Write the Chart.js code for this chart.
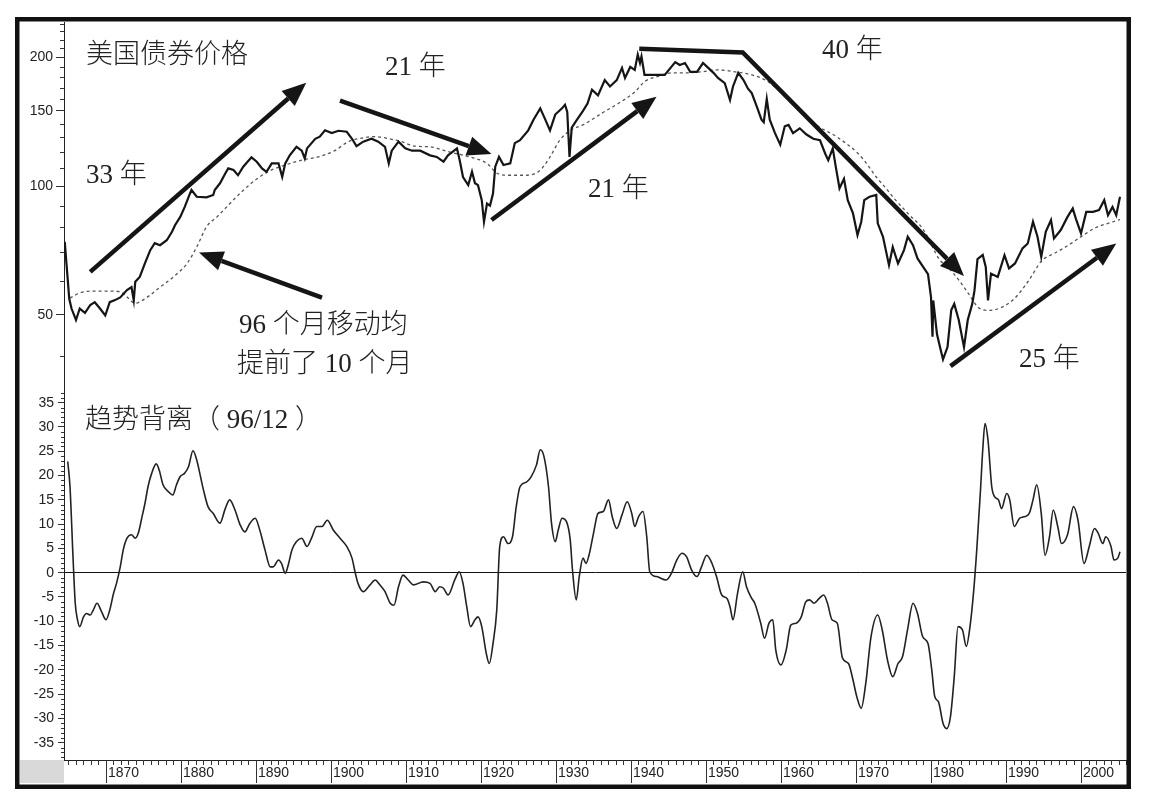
<!DOCTYPE html>
<html>
<head>
<meta charset="utf-8">
<script src="https://cdn.jsdelivr.net/npm/chart.js@4.4.1/dist/chart.umd.min.js"></script>
<style>
  html, body { margin: 0; padding: 0; background: #fff; }
</style>
</head>
<body>
<canvas id="myChart" width="1152" height="804"></canvas>
<script>
const ctx = document.getElementById("myChart").getContext("2d");

// US bond price (monthly readings, log scale)
const priceYears = [
  1864.5,1865.1,1865.4,1866.0,1866.5,1867.2,1867.9,1868.5,1869.2,1869.9,
  1870.5,1871.2,1871.9,1872.8,1873.4,1873.7,1873.9,1874.5,1875.2,1875.9,
  1876.5,1877.2,1878.1,1878.8,1879.2,1879.9,1880.5,1881.2,1881.4,1882.1,
  1883.4,1884.3,1884.5,1885.2,1885.9,1886.3,1887.0,1887.6,1888.3,1889.4,
  1890.1,1890.8,1891.4,1892.1,1893.0,1893.5,1893.9,1894.5,1895.4,1896.1,
  1896.5,1896.8,1897.9,1898.5,1899.2,1900.1,1901.0,1902.1,1902.8,1903.4,
  1904.3,1905.4,1906.3,1907.2,1907.7,1908.1,1909.0,1909.9,1910.8,1911.9,
  1913.2,1914.1,1915.0,1915.6,1916.8,1917.2,1917.6,1918.3,1918.8,1919.2,
  1919.6,1920.1,1920.4,1920.8,1921.2,1921.6,1921.9,1922.4,1923.0,1923.9,
  1924.5,1925.2,1926.3,1927.0,1927.9,1928.5,1929.2,1929.9,1930.8,1931.2,
  1931.5,1931.8,1932.1,1932.8,1933.6,1934.2,1934.8,1935.6,1936.5,1937.2,
  1938.1,1938.8,1939.2,1939.9,1940.5,1940.9,1941.2,1941.4,1941.8,1942.8,
  1944.5,1945.9,1946.5,1947.2,1947.9,1948.8,1949.6,1950.3,1951.0,1951.6,
  1952.5,1953.2,1953.6,1954.3,1955.0,1955.6,1956.1,1956.8,1957.4,1957.7,
  1958.1,1958.5,1959.2,1959.9,1960.5,1961.0,1961.6,1962.5,1963.4,1964.3,
  1965.2,1965.9,1966.3,1966.9,1967.3,1967.8,1968.4,1968.9,1969.6,1970.2,
  1970.7,1971.1,1971.8,1972.7,1972.9,1973.6,1974.4,1974.9,1975.6,1976.4,
  1976.9,1977.6,1978.2,1979.6,1980.0,1980.2,1980.3,1980.8,1981.2,1981.6,
  1982.2,1982.7,1983.1,1983.7,1984.4,1984.9,1985.5,1985.8,1986.2,1986.9,
  1987.3,1987.6,1988.0,1988.9,1989.8,1990.4,1991.2,1992.2,1992.9,1993.6,
  1994.2,1994.7,1995.3,1996.0,1996.4,1997.3,1998.2,1998.9,1999.3,2000.0,
  2000.7,2001.6,2002.4,2003.1,2003.6,2004.2,2004.7,2005.2
];
const priceValues = [
  74,54.5,51.7,48.6,51.7,50.5,52.7,53.5,51.7,49.8,
  53.5,54.1,54.9,57.1,58,54,59.7,61.3,66,70.8,
  73.5,72.7,74.7,78.2,81,84.7,89.4,96.1,97.9,94.4,
  94.1,95.3,97.9,101.5,107,110,109,106,111,116.7,
  114,110,108,113,113,105,113,118,123.5,121,
  116,122.5,129,130.5,135,133,134.7,134,129,124,
  127,129,127,123.5,113,121,127,122.5,121,121,
  118,117,114,118,122.5,114,105,100.5,108,101.5,
  100.5,92.7,82.5,91,90,96,111,117,112,113,
  126,128,135,143,152,144,135,147,152,155,
  149,117,137,143,150,156,168,163,177,171,
  177,189,179,190,187,203,194,201,182,182,
  182,195,192,194,185,185,194,189,184,179,
  174,159,171,184,177,169,165,153,143,141,
  160,143,133,125,138,139,133,136.5,132,129,
  128,119,115,122.5,111,98.8,104,92.7,86.3,76.8,
  82.5,92.7,94.4,95.3,81.8,76.1,65.3,72,65.9,70.8,
  76.1,72.7,67.7,62.2,55,44.4,54,45,42,39.3,
  42,51.3,53,48.6,42,48.6,53,57,67.5,69,
  64.7,54,62.4,61.3,68.9,64.2,65.9,71.5,73.4,82.5,
  76.1,68.3,78.2,83.3,75.4,78.9,84.7,88.7,84,77.5,
  87,87,87.9,92.7,85.5,89.4,85.5,94.4
];

// 96-month moving average (dotted)
const maYears = [
  1865.2,1866.5,1868.3,1870.5,1871.9,1872.8,1873.9,1874.5,1875.9,1877.2,
  1879.0,1880.8,1882.1,1883.4,1884.8,1886.1,1887.4,1889.4,1891.6,1893.9,
  1896.1,1898.3,1900.5,1902.3,1903.6,1905.9,1908.1,1909.4,1911.2,1913.2,
  1915.9,1918.5,1920.8,1922.2,1923.9,1926.1,1927.9,1929.2,1930.5,1931.9,
  1933.6,1934.5,1936.1,1938.3,1940.5,1941.9,1943.6,1945.4,1947.2,1949.4,
  1951.6,1953.9,1956.1,1957.9,1960.5,1963.0,1964.7,1967.4,1970.1,1971.4,
  1972.7,1974.0,1974.9,1977.0,1979.0,1981.2,1981.9,1983.8,1985.0,1986.3,
  1987.6,1989.4,1991.1,1993.0,1994.8,1996.4,1998.2,2000.0,2002.0,2003.8,
  2005.2
];
const maValues = [
  54.7,56.2,56.8,56.8,56.6,55,53.2,53.6,55.6,58,
  61.3,65.9,72,80.3,84.7,89.4,94.4,101.6,108,112,
  115,117,121,127,129,130.5,128.6,127,124,123.5,
  120,117,113,107,106,106,109,117,128,135,
  139,142,148,156,166,176,180.5,184,184,185,
  187,185,182,177,163,148,139,130.5,120,113,
  105,98.8,94.4,86,79,67,65.5,60,56,52,
  51.2,52,54.5,60,67,69.5,72.5,76.1,80,82,
  83.5
];

// trend deviation (96/12)
const oscYears = [
  1864.9,1865.2,1865.6,1865.9,1866.2,1866.5,1867.0,1867.4,1867.9,1868.3,
  1868.8,1869.4,1870.0,1870.5,1871.0,1871.4,1871.9,1872.3,1872.8,1873.4,
  1873.9,1874.3,1874.8,1875.2,1875.6,1876.1,1876.7,1877.1,1877.6,1878.3,
  1878.9,1879.4,1879.9,1880.5,1881.0,1881.6,1882.1,1882.5,1883.0,1883.6,
  1884.3,1885.2,1885.9,1886.5,1887.2,1887.9,1888.5,1889.2,1889.9,1890.5,
  1891.2,1891.9,1892.3,1893.0,1893.4,1893.9,1894.3,1894.8,1895.4,1896.1,
  1896.8,1897.4,1898.1,1898.8,1899.5,1900.3,1901.2,1902.1,1902.8,1903.2,
  1903.6,1904.3,1905.2,1905.9,1906.5,1907.2,1907.9,1908.4,1909.0,1909.6,
  1910.3,1911.0,1912.3,1913.2,1913.9,1914.5,1915.0,1915.6,1916.5,1917.1,
  1917.6,1918.1,1918.6,1919.2,1919.6,1920.1,1920.7,1921.1,1921.6,1922.1,
  1922.5,1923.0,1923.6,1924.2,1924.7,1925.2,1926.1,1926.7,1927.4,1927.9,
  1928.4,1929.0,1929.4,1929.9,1930.3,1930.8,1931.4,1931.9,1932.2,1932.7,
  1933.1,1933.6,1934.0,1934.4,1935.0,1935.6,1936.3,1937.0,1937.5,1938.1,
  1938.8,1939.5,1940.1,1940.5,1941.0,1941.6,1942.1,1942.5,1943.4,1944.7,
  1945.4,1946.1,1946.8,1947.4,1948.1,1948.8,1949.4,1950.1,1950.8,1951.4,
  1952.1,1952.8,1953.2,1953.6,1954.2,1954.9,1955.4,1956.1,1956.5,1957.3,
  1957.8,1958.4,1958.9,1959.3,1960.0,1960.7,1961.3,1962.0,1962.7,1963.3,
  1963.8,1964.4,1965.1,1965.7,1966.2,1966.8,1967.5,1968.2,1969.0,1969.6,
  1970.1,1970.7,1971.3,1972.0,1972.9,1973.5,1974.2,1974.9,1975.6,1976.2,
  1976.9,1977.6,1978.2,1978.9,1979.6,1980.1,1980.5,1981.0,1981.6,1982.1,
  1982.6,1983.1,1983.6,1984.2,1984.7,1985.2,1985.7,1986.1,1986.6,1986.9,
  1987.2,1987.6,1988.1,1988.5,1989.0,1989.4,1990.1,1990.5,1991.1,1991.8,
  1992.4,1993.1,1993.6,1994.1,1994.7,1995.2,1995.8,1996.3,1996.9,1997.4,
  1998.2,1999.0,1999.6,2000.4,2001.1,2001.8,2002.3,2002.9,2003.3,2004.0,
  2004.4,2004.9,2005.2
];
const oscValues = [
  22.9,17.7,3.3,-6.3,-9.7,-11.1,-9.1,-8.4,-8.7,-7.7,
  -6.3,-8,-9.7,-7.7,-4.3,-2.2,1.2,4.7,7.1,7.8,
  7.1,8.1,11.5,14.3,17.7,20.5,22.4,21.1,18.1,16.7,
  16,18.1,19.8,20.5,21.8,25.1,23.2,20.5,17,13.6,
  12.2,10.2,13.2,15,12.9,9.8,8.4,10.2,11.2,8.8,
  4.7,1.2,1.2,2.6,1.9,-0.1,1.6,4.7,6.4,7.1,
  5.4,7.1,9.5,9.5,10.8,8.8,7.1,5.4,3,0.2,
  -2.2,-3.9,-2.5,-1.5,-2.5,-3.9,-6.3,-6.7,-2.9,-0.5,
  -1.5,-2.5,-1.9,-2.2,-3.9,-2.9,-3.2,-4.6,-1.5,0.2,
  -2.2,-7,-11.1,-9.7,-9.1,-11.1,-16.6,-18.7,-14.6,-7.7,
  5.4,7.4,6,7.4,13.6,17.7,18.7,19.8,22.2,25.3,
  23.9,17.7,10.2,6.4,8.8,11.2,10.5,6.7,0.5,-5.6,
  -0.8,3,1.9,3.6,8.1,12.2,12.6,15,11.5,9.1,
  11.9,14.6,12.2,9.5,11.5,12.6,7.4,0.2,-0.8,-1.5,
  -0.1,2.6,4,3.3,0.5,-0.8,1.2,3.6,1.9,-0.8,
  -4.6,-5.3,-7,-9.7,-4.3,0.2,-2.9,-5.3,-6.3,-10.4,
  -13.5,-10.4,-9.7,-15.9,-19,-15.9,-10.8,-10.4,-9.1,-6,
  -5.6,-6.3,-5.3,-4.6,-6.3,-9.7,-10.4,-17.6,-18.7,-22.1,
  -25.5,-27.9,-22.8,-13.2,-8.7,-11.8,-18,-21.4,-18.7,-17.3,
  -11.5,-6.3,-8.4,-13.2,-14.6,-20,-25.5,-26.6,-31,-32.1,
  -29.6,-21.4,-11.1,-11.8,-15.2,-11.1,-3.6,4.7,17,25.3,
  30.7,27.3,17.7,15.6,15,13.2,16.3,15,9.5,11.2,
  11.5,12.2,15,18.1,12.2,3.6,7.4,12.9,9.5,6,
  7.8,13.6,10.8,1.9,5.4,9.1,8.1,6,7.4,5.4,
  2.6,3,4.3
];

// axis ticks
const yearTicks = [1870,1880,1890,1900,1910,1920,1930,1940,1950,1960,1970,1980,1990,2000];
const priceTicks = [50,100,150,200];
const priceMinorTicks = [40,60,70,80,90,110,120,130,140,160,170,180,190,210,220,230,240];
const oscTicks = [-35,-30,-25,-20,-15,-10,-5,0,5,10,15,20,25,30,35];

// annotation arrows, in (year, price) units
const arrows = [
  [[1867.9, 63], [1896.7, 174.5]],
  [[1901.2, 158.4], [1921.4, 118.8]],
  [[1921.4, 83.3], [1943.4, 161.8]],
  [[1941.1, 209.4], [1954.9, 205.4], [1984.4, 61.6]],
  [[1898.8, 54.8], [1882.4, 69.9]],
  [[1982.6, 37.9], [2004.7, 73.4]],
];
const notes = [
  { text: "美国债券价格", x: 86, y: 63 },
  { text: "33 年", x: 86, y: 183 },
  { text: "21 年", x: 385, y: 75 },
  { text: "40 年", x: 822, y: 58 },
  { text: "21 年", x: 588, y: 197 },
  { text: "96 个月移动均", x: 239, y: 333 },
  { text: "提前了 10 个月", x: 237, y: 372 },
  { text: "25 年", x: 1019, y: 367 },
  { text: "趋势背离（ 96/12 ）", x: 85, y: 428 },
];

const toPoints = (xs, ys) => xs.map((x, i) => ({ x: x, y: ys[i] }));

function drawArrow(c, pts) {
  const n = pts.length;
  const [tx, ty] = pts[n - 1];
  const [px, py] = pts[n - 2];
  const ang = Math.atan2(ty - py, tx - px);
  const headLen = 24, headHalf = 10;
  const bx = tx - headLen * Math.cos(ang);
  const by = ty - headLen * Math.sin(ang);
  c.beginPath();
  c.moveTo(pts[0][0], pts[0][1]);
  for (let i = 1; i < n - 1; i++) c.lineTo(pts[i][0], pts[i][1]);
  c.lineTo(bx, by);
  c.stroke();
  c.beginPath();
  c.moveTo(tx, ty);
  c.lineTo(bx + headHalf * Math.sin(ang), by - headHalf * Math.cos(ang));
  c.lineTo(bx - headHalf * Math.sin(ang), by + headHalf * Math.cos(ang));
  c.closePath();
  c.fill();
}

const decor = {
  id: "decor",
  beforeDraw(chart) {
    const c = chart.ctx;
    const x = chart.scales.x;
    c.save();
    c.fillStyle = "#fff";
    c.fillRect(0, 0, chart.width, chart.height);
    c.fillStyle = "#d9d9d9";
    c.fillRect(20, x.top, chart.chartArea.left - 20, 23);
    c.restore();
  },
  afterDraw(chart) {
    const c = chart.ctx;
    const { x, yPrice, yOsc } = chart.scales;
    c.save();

    // minor ticks
    c.strokeStyle = "#333";
    c.lineWidth = 1;
    c.beginPath();
    for (let yr = Math.ceil(x.min); yr <= x.max; yr++) {
      const px = Math.round(x.getPixelForValue(yr)) + 0.5;
      c.moveTo(px, x.top);
      c.lineTo(px, x.top + (yr % 10 === 0 ? 23 : 5));
    }
    priceMinorTicks.forEach(v => {
      const py = Math.round(yPrice.getPixelForValue(v)) + 0.5;
      c.moveTo(yPrice.right - 4, py);
      c.lineTo(yPrice.right, py);
    });
    for (let v = Math.ceil(yOsc.min); v <= yOsc.max; v++) {
      if (v % 5 === 0) continue;
      const py = Math.round(yOsc.getPixelForValue(v)) + 0.5;
      c.moveTo(yOsc.right - 3, py);
      c.lineTo(yOsc.right, py);
    }
    c.stroke();

    // arrows
    c.strokeStyle = "#151515";
    c.fillStyle = "#151515";
    c.lineWidth = 4.5;
    c.lineJoin = "miter";
    arrows.forEach(a => {
      drawArrow(c, a.map(p => [x.getPixelForValue(p[0]), yPrice.getPixelForValue(p[1])]));
    });

    // labels
    c.fillStyle = "#222";
    c.font = '300 27px "Liberation Serif", "Noto Sans CJK SC", serif';
    c.textBaseline = "alphabetic";
    c.textAlign = "left";
    notes.forEach(t => c.fillText(t.text, t.x, t.y));

    // frame
    c.strokeStyle = "#111";
    c.lineWidth = 4.5;
    c.strokeRect(17.25, 19.25, 1111.5, 767.5);
    c.restore();
  }
};

const tickFont = { family: '"Liberation Sans", Arial, sans-serif', size: 14 };

const config = {
  type: "line",
  data: {
    datasets: [
      {
        data: toPoints(priceYears, priceValues),
        yAxisID: "yPrice",
        borderColor: "#151515",
        borderWidth: 2.2,
        pointRadius: 0,
        tension: 0,
      },
      {
        data: toPoints(maYears, maValues),
        yAxisID: "yPrice",
        borderColor: "#555",
        borderWidth: 1.3,
        borderDash: [3, 3],
        pointRadius: 0,
        cubicInterpolationMode: "monotone",
      },
      {
        data: toPoints(oscYears, oscValues),
        yAxisID: "yOsc",
        borderColor: "#222",
        borderWidth: 1.6,
        pointRadius: 0,
        cubicInterpolationMode: "monotone",
      },
    ],
  },
  options: {
    responsive: false,
    animation: false,
    devicePixelRatio: 1,
    layout: { padding: { left: 20, right: 26, top: 22, bottom: 21 } },
    plugins: { legend: { display: false }, tooltip: { enabled: false } },
    scales: {
      x: {
        type: "linear",
        position: "bottom",
        min: 1864.4,
        max: 2006,
        afterBuildTicks: s => { s.ticks = yearTicks.map(v => ({ value: v })); },
        afterFit: s => { s.height = 23; },
        grid: { drawOnChartArea: false, drawTicks: false },
        border: { display: true, color: "#222", width: 1 },
        ticks: {
          autoSkip: false,
          maxRotation: 0,
          align: "start",
          labelOffset: 2,
          padding: 5,
          color: "#222",
          font: tickFont,
          callback: v => String(v),
        },
      },
      yOsc: {
        type: "linear",
        position: "left",
        stack: "panels",
        stackWeight: 367,
        min: -38.57,
        max: 37.0,
        afterBuildTicks: s => { s.ticks = oscTicks.map(v => ({ value: v })); },
        afterFit: s => { s.width = 44; },
        grid: {
          color: c => (c.tick && c.tick.value === 0 ? "#111" : "rgba(0,0,0,0)"),
          tickColor: "#333",
          tickLength: 6,
          lineWidth: 1,
        },
        border: { display: true, color: "#222", width: 1 },
        ticks: { autoSkip: false, padding: 4, color: "#222", font: tickFont, callback: v => String(v) },
      },
      yPrice: {
        type: "logarithmic",
        position: "left",
        stack: "panels",
        stackWeight: 371,
        min: 32.8,
        max: 242,
        afterBuildTicks: s => { s.ticks = priceTicks.map(v => ({ value: v })); },
        afterFit: s => { s.width = 44; },
        grid: { drawOnChartArea: false, tickColor: "#333", tickLength: 8 },
        border: { display: true, color: "#222", width: 1 },
        ticks: { autoSkip: false, padding: 3, color: "#222", font: tickFont, callback: v => String(v) },
      },
    },
  },
  plugins: [decor],
};

const myChart = new Chart(ctx, config);
</script>
</body>
</html>
